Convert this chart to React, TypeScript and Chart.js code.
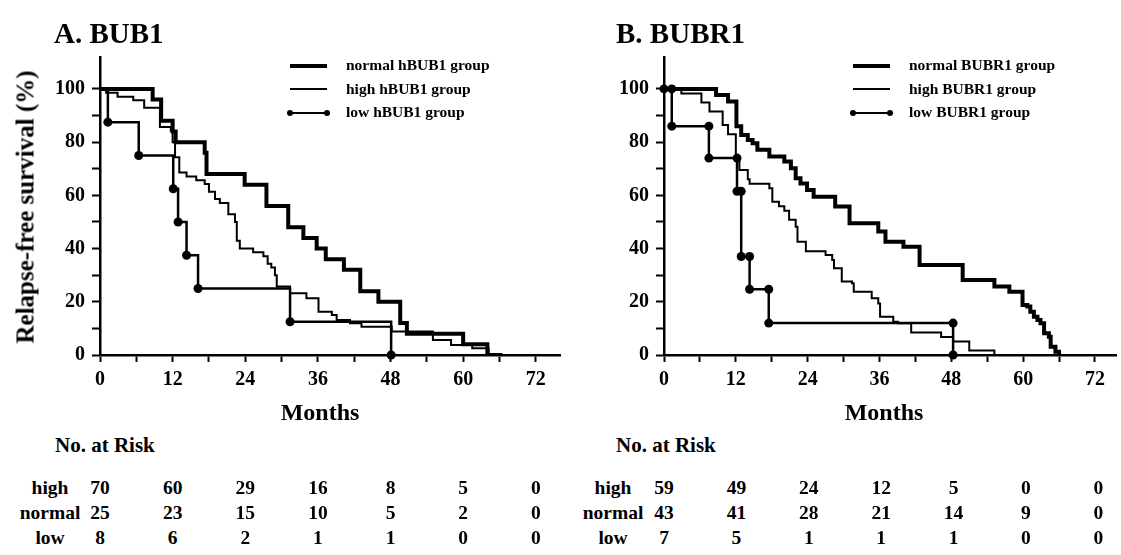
import React, { useEffect, useRef } from "react";
import { Chart, registerables } from "chart.js";

Chart.register(...registerables);

const SERIF = "'Liberation Serif', 'Times New Roman', Times, serif";

// ---------- Panel A: BUB1 (Kaplan-Meier step data, months / % relapse-free) ----------
const normalA_months = [0, 8.7, 10.1, 12.0, 12.5, 17.3, 17.6, 23.9, 27.5, 31.1, 33.6, 35.8, 37.3, 40.3, 43.0, 46.0, 49.6, 50.7, 60.0, 64.0, 66.5];
const normalA_surv = [100, 96, 88, 84, 80, 76, 68, 64, 56, 48, 44, 40, 36, 32, 24, 20, 12, 8, 4, 0, 0];

const highA_months = [0, 1.0, 2.9, 5.5, 7.3, 9.9, 11.7, 12.0, 12.4, 13.1, 14.3, 15.9, 17.3, 18.0, 19.0, 19.8, 21.2, 22.3, 22.6, 23.1, 25.3, 27.0, 27.7, 28.3, 28.9, 29.2, 31.4, 34.1, 36.1, 38.3, 39.1, 41.3, 43.2, 48.2, 55.0, 58.0, 61.5, 64.2];
const highA_surv = [100, 98.6, 97.1, 95.7, 92.9, 85.7, 84.3, 80.0, 74.3, 68.6, 67.1, 65.7, 64.3, 61.4, 58.6, 57.1, 52.9, 50.0, 42.9, 40.0, 38.6, 37.1, 34.3, 32.9, 30.0, 25.7, 23.2, 21.3, 16.3, 15.0, 13.2, 11.9, 10.6, 8.8, 5.6, 3.8, 2.5, 0];

const lowA_months = [0, 1.3, 6.4, 12.1, 12.9, 14.3, 16.2, 31.4, 48.1];
const lowA_surv = [100, 87.5, 75, 62.5, 50, 37.5, 25, 12.5, 0];

// ---------- Panel B: BUBR1 ----------
const normalB_months = [0, 8.7, 10.7, 12.1, 12.9, 14.0, 14.8, 15.6, 17.6, 20.1, 21.2, 22.0, 22.8, 23.9, 25.0, 28.6, 31.0, 35.8, 37.0, 40.0, 42.7, 49.9, 55.2, 57.7, 59.9, 60.7, 61.2, 61.8, 62.4, 62.9, 63.5, 64.3, 64.6, 65.4, 66.0];
const normalB_surv = [100, 97.7, 95.3, 86.0, 82.7, 80.8, 79.6, 77.1, 74.6, 72.7, 70.2, 66.4, 64.5, 62.0, 59.5, 55.8, 49.5, 46.4, 42.6, 40.7, 33.8, 28.2, 25.7, 23.8, 18.8, 18.2, 16.3, 14.4, 13.2, 11.9, 8.2, 6.9, 3.1, 1.2, 0];

const highB_months = [0, 2.9, 6.25, 7.6, 9.8, 10.7, 12.0, 12.6, 14.0, 14.3, 17.6, 18.1, 19.2, 20.1, 20.9, 22.0, 22.3, 23.7, 27.0, 28.1, 28.4, 29.7, 31.4, 31.7, 34.7, 35.8, 36.1, 38.3, 39.1, 41.3, 46.3, 48.3, 51.0, 55.2];
const highB_surv = [100, 98.3, 94.9, 91.5, 86.4, 83.0, 74.6, 69.5, 66.1, 64.4, 62.7, 57.6, 55.9, 54.2, 50.8, 48.2, 42.6, 39.0, 37.6, 35.7, 32.6, 27.6, 27.0, 23.8, 21.3, 19.4, 14.4, 12.5, 11.9, 8.5, 6.8, 5.1, 1.7, 0];

const lowB_months = [0, 1.3, 7.5, 12.2, 12.9, 14.3, 17.5, 48.3];
const lowB_surv = [100, 86, 74, 61.5, 37, 24.7, 12, 0];

// ---------- Numbers at risk ----------
const riskMonths = [0, 12, 24, 36, 48, 60, 72];
const riskA_high = [70, 60, 29, 16, 8, 5, 0];
const riskA_normal = [25, 23, 15, 10, 5, 2, 0];
const riskA_low = [8, 6, 2, 1, 1, 0, 0];
const riskB_high = [59, 49, 24, 12, 5, 0, 0];
const riskB_normal = [43, 41, 28, 21, 14, 9, 0];
const riskB_low = [7, 5, 1, 1, 1, 0, 0];

// ---------- Axis ticks ----------
const xTickValues = [0, 6, 12, 18, 24, 30, 36, 42, 48, 54, 60, 66, 72];
const yTickValues = [0, 10, 20, 30, 40, 50, 60, 70, 80, 90, 100];
const Y_MAX = 112;

const CANVAS_H = 400;
const AXIS_W = 100; // y-axis box width
const PLOT_TOP = 57;
const PLOT_BOTTOM = 355;

function toXY(m: number[], s: number[]) {
  return m.map((x, i) => ({ x, y: s[i] }));
}

function dotsFor(m: number[], s: number[], bothEnds: boolean) {
  const pts: { x: number; y: number }[] = [];
  if (bothEnds) pts.push({ x: m[0], y: s[0] });
  for (let i = 1; i < m.length; i++) {
    if (bothEnds) pts.push({ x: m[i], y: s[i - 1] });
    pts.push({ x: m[i], y: s[i] });
  }
  return pts;
}

type PanelProps = {
  left: number;
  width: number;
  padRight: number;
  xMax: number;
  normal: [number[], number[]];
  high: [number[], number[]];
  low: [number[], number[]];
  bothEnds: boolean;
};

function KMPanel(p: PanelProps) {
  const ref = useRef<HTMLCanvasElement | null>(null);
  useEffect(() => {
    if (!ref.current) return;
    const tickFont = { family: SERIF, size: 20, weight: "bold" as const };
    const lineBase = {
      stepped: "before" as const,
      borderColor: "#000",
      pointRadius: 0,
      fill: false,
      borderJoinStyle: "miter" as const,
      borderCapStyle: "butt" as const,
      tension: 0,
    };
    const chart = new Chart(ref.current, {
      type: "line",
      data: {
        datasets: [
          { ...lineBase, label: "normal", data: toXY(p.normal[0], p.normal[1]), borderWidth: 4 },
          { ...lineBase, label: "high", data: toXY(p.high[0], p.high[1]), borderWidth: 2 },
          { ...lineBase, label: "low", data: toXY(p.low[0], p.low[1]), borderWidth: 2.5 },
          {
            type: "scatter" as any,
            label: "low points",
            data: dotsFor(p.low[0], p.low[1], p.bothEnds),
            showLine: false,
            pointRadius: 4.5,
            pointBackgroundColor: "#000",
            pointBorderColor: "#000",
            pointBorderWidth: 0,
            clip: false as any,
          } as any,
        ],
      },
      options: {
        animation: false,
        responsive: false,
        maintainAspectRatio: false,
        events: [],
        layout: { padding: { top: PLOT_TOP, right: p.padRight, left: 0, bottom: 0 } },
        plugins: { legend: { display: false }, tooltip: { enabled: false }, title: { display: false } },
        scales: {
          x: {
            type: "linear",
            min: 0,
            max: p.xMax,
            afterBuildTicks: (s: any) => {
              s.ticks = xTickValues.map((v) => ({ value: v }));
            },
            afterFit: (s: any) => {
              s.height = CANVAS_H - PLOT_BOTTOM;
            },
            ticks: {
              autoSkip: false,
              maxRotation: 0,
              padding: 6,
              color: "#000",
              font: tickFont,
              callback: (v: any) => (Number(v) % 12 === 0 ? String(v) : ""),
            },
            grid: { drawOnChartArea: false, drawTicks: true, tickLength: 7, tickWidth: 2, tickColor: "#000" },
            border: { display: true, color: "#000", width: 2.5 },
          },
          y: {
            type: "linear",
            min: 0,
            max: Y_MAX,
            afterBuildTicks: (s: any) => {
              s.ticks = yTickValues.map((v) => ({ value: v }));
            },
            afterFit: (s: any) => {
              s.width = AXIS_W;
            },
            ticks: {
              autoSkip: false,
              padding: 7,
              color: "#000",
              font: tickFont,
              callback: (v: any) => (Number(v) % 20 === 0 ? String(v) : ""),
            },
            grid: { drawOnChartArea: false, drawTicks: true, tickLength: 8, tickWidth: 2, tickColor: "#000" },
            border: { display: true, color: "#000", width: 2.5 },
          },
        },
      } as any,
    });
    return () => chart.destroy();
  }, []);
  return (
    <canvas
      ref={ref}
      width={p.width}
      height={CANVAS_H}
      style={{ position: "absolute", left: p.left, top: 0, width: p.width, height: CANVAS_H }}
    />
  );
}

const bold = (size: number): React.CSSProperties => ({
  position: "absolute",
  fontFamily: SERIF,
  fontWeight: "bold",
  fontSize: size,
  color: "#000",
  whiteSpace: "nowrap",
  lineHeight: `${size}px`,
});

function Legend({ x, labels }: { x: number; labels: string[] }) {
  const rows = [65.5, 89, 112.5];
  const lineW = 37;
  return (
    <>
      <div style={{ position: "absolute", left: x, top: rows[0] - 2, width: lineW, height: 4, background: "#000" }} />
      <div style={{ position: "absolute", left: x, top: rows[1] - 1, width: lineW, height: 2, background: "#000" }} />
      <div style={{ position: "absolute", left: x, top: rows[2] - 1, width: lineW, height: 2, background: "#000" }} />
      <div style={{ position: "absolute", left: x - 3, top: rows[2] - 3, width: 6, height: 6, borderRadius: 3, background: "#000" }} />
      <div style={{ position: "absolute", left: x + lineW - 3, top: rows[2] - 3, width: 6, height: 6, borderRadius: 3, background: "#000" }} />
      {labels.map((t, i) => (
        <div key={t} style={{ ...bold(15.5), left: x + 56, top: rows[i] - 8.5 }}>
          {t}
        </div>
      ))}
    </>
  );
}

function RiskTable({ labelX, x0, pxPerMonth, textX, rows }: { labelX: number; x0: number; pxPerMonth: number; textX: number; rows: [string, number[]][] }) {
  const ys = [488, 513, 538];
  return (
    <>
      <div style={{ ...bold(21), left: textX, top: 435 }}>No. at Risk</div>
      {rows.map(([name, vals], r) => (
        <React.Fragment key={name}>
          <div style={{ ...bold(19.5), left: labelX, top: ys[r] - 10, transform: "translateX(-50%)" }}>{name}</div>
          {vals.map((v, i) => (
            <div key={i} style={{ ...bold(19.5), left: x0 + riskMonths[i] * pxPerMonth, top: ys[r] - 10, transform: "translateX(-50%)" }}>
              {v}
            </div>
          ))}
        </React.Fragment>
      ))}
    </>
  );
}

export default function App() {
  const A_left = 0, A_width = 565, A_padR = 5, A_xMax = 76;
  const B_left = 564, B_width = 557, B_padR = 1, B_xMax = 75.6;
  const A_x0 = A_left + AXIS_W;
  const A_ppm = (A_width - A_padR - AXIS_W) / A_xMax;
  const B_x0 = B_left + AXIS_W;
  const B_ppm = (B_width - B_padR - AXIS_W) / B_xMax;
  return (
    <div style={{ position: "fixed", left: 0, top: 0, width: 1121, height: 555, background: "#fff", overflow: "hidden" }}>
      <KMPanel left={A_left} width={A_width} padRight={A_padR} xMax={A_xMax}
        normal={[normalA_months, normalA_surv]} high={[highA_months, highA_surv]} low={[lowA_months, lowA_surv]} bothEnds={false} />
      <KMPanel left={B_left} width={B_width} padRight={B_padR} xMax={B_xMax}
        normal={[normalB_months, normalB_surv]} high={[highB_months, highB_surv]} low={[lowB_months, lowB_surv]} bothEnds={true} />

      <div style={{ ...bold(29), left: 54, top: 19 }}>A. BUB1</div>
      <div style={{ ...bold(29), left: 616, top: 19 }}>B. BUBR1</div>

      <div style={{ ...bold(25), left: 25, top: 207, transform: "translate(-50%, -50%) rotate(-90deg)" }}>
        Relapse-free survival (%)
      </div>

      <div style={{ ...bold(24), left: 320, top: 400, transform: "translateX(-50%)" }}>Months</div>
      <div style={{ ...bold(24), left: 884, top: 400, transform: "translateX(-50%)" }}>Months</div>

      <Legend x={290} labels={["normal hBUB1 group", "high hBUB1 group", "low hBUB1 group"]} />
      <Legend x={853} labels={["normal BUBR1 group", "high BUBR1 group", "low BUBR1 group"]} />

      <RiskTable labelX={50} x0={A_x0} pxPerMonth={A_ppm} textX={55}
        rows={[["high", riskA_high], ["normal", riskA_normal], ["low", riskA_low]]} />
      <RiskTable labelX={613} x0={B_x0} pxPerMonth={B_ppm} textX={616}
        rows={[["high", riskB_high], ["normal", riskB_normal], ["low", riskB_low]]} />
    </div>
  );
}
